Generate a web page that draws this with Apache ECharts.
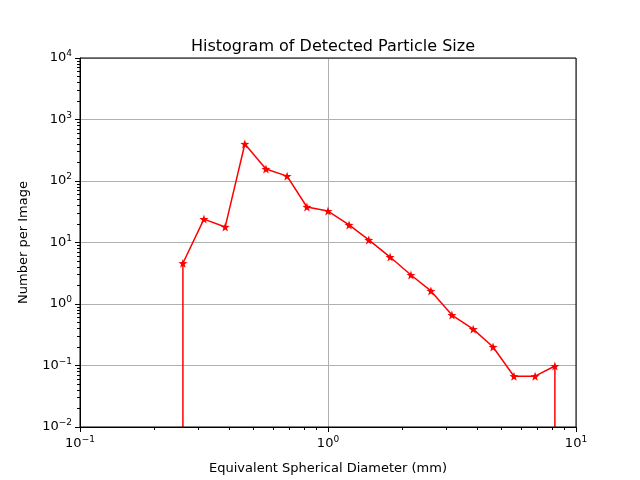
<!DOCTYPE html>
<html><head><meta charset="utf-8">
<script src="https://cdn.jsdelivr.net/npm/echarts@6/dist/echarts.min.js"></script>
<style>html,body{margin:0;padding:0;background:#fff}#c{width:640px;height:480px}</style>
</head><body><div id="c"></div>
<script>
// bin centres (mm) and counts per image; zeros at both ends
var diameters = [0.26, 0.26, 0.316, 0.385, 0.462, 0.562, 0.684, 0.822, 1.0, 1.216, 1.46, 1.78, 2.16, 2.6, 3.16, 3.85, 4.63, 5.62, 6.84, 8.22, 8.22];
var counts = [0, 4.6, 24, 17.9, 400, 157, 120, 37.8, 32.5, 19.3, 11, 5.8, 2.96, 1.63, 0.66, 0.39, 0.2, 0.067, 0.067, 0.098, 0];

var chart = echarts.init(document.getElementById('c'));
var font = 'DejaVu Sans';
function fmt(v) {
  var e = Math.round(Math.log10(v));
  return '10{s|' + String(e).replace('-', '\u2212') + '}';
}
var labelStyle = {color: '#000', fontFamily: font, fontSize: 13, formatter: fmt,
  rich: {s: {fontSize: 9, verticalAlign: 'top', padding: [0, 0, 8, 0], fontFamily: font}}};
var pts = diameters.map(function (d, i) { return [d, counts[i] > 0 ? counts[i] : 1e-6]; });

chart.setOption({
  animation: false,
  title: {text: 'Histogram of Detected Particle Size', left: 328, top: 34, textAlign: 'center',
    textStyle: {fontFamily: font, fontSize: 16, fontWeight: 'normal', color: '#000'}},
  grid: {left: 80, right: 64, top: 58, bottom: 53},
  xAxis: {type: 'log', min: 0.1, max: 10, logBase: 10,
    name: 'Equivalent Spherical Diameter (mm)', nameLocation: 'middle', nameGap: 35,
    nameTextStyle: {fontFamily: font, fontSize: 13, color: '#000'},
    axisLine: {onZero: false, lineStyle: {color: '#000'}},
    axisTick: {inside: false, length: 5, lineStyle: {color: '#000'}},
    minorTick: {show: true, splitNumber: 9, length: 3, lineStyle: {color: '#000'}},
    axisLabel: labelStyle,
    splitLine: {show: true, lineStyle: {color: '#b0b0b0'}}},
  yAxis: {type: 'log', min: 0.01, max: 10000, logBase: 10,
    name: 'Number per Image', nameLocation: 'middle', nameGap: 50,
    nameTextStyle: {fontFamily: font, fontSize: 13, color: '#000'},
    axisLine: {show: true, onZero: false, lineStyle: {color: '#000'}},
    axisTick: {show: true, length: 5, lineStyle: {color: '#000'}},
    minorTick: {show: true, splitNumber: 9, length: 3, lineStyle: {color: '#000'}},
    axisLabel: labelStyle,
    splitLine: {show: true, lineStyle: {color: '#b0b0b0'}}},
  series: [{type: 'line', data: pts, clip: true, color: '#ff0000',
    symbol: 'path://M0,-10 L2.35,-3.24 L9.51,-3.09 L3.8,1.24 L5.88,8.09 L0,4 L-5.88,8.09 L-3.8,1.24 L-9.51,-3.09 L-2.35,-3.24 Z',
    symbolSize: 9, lineStyle: {width: 1.5, color: '#ff0000'}, itemStyle: {color: '#ff0000'}}]
});
chart.setOption({graphic: [{type: 'rect', shape: {x: 80, y: 58, width: 496, height: 369},
  style: {fill: 'none', stroke: '#000', lineWidth: 1}, z: 10}]});
</script></body></html>
